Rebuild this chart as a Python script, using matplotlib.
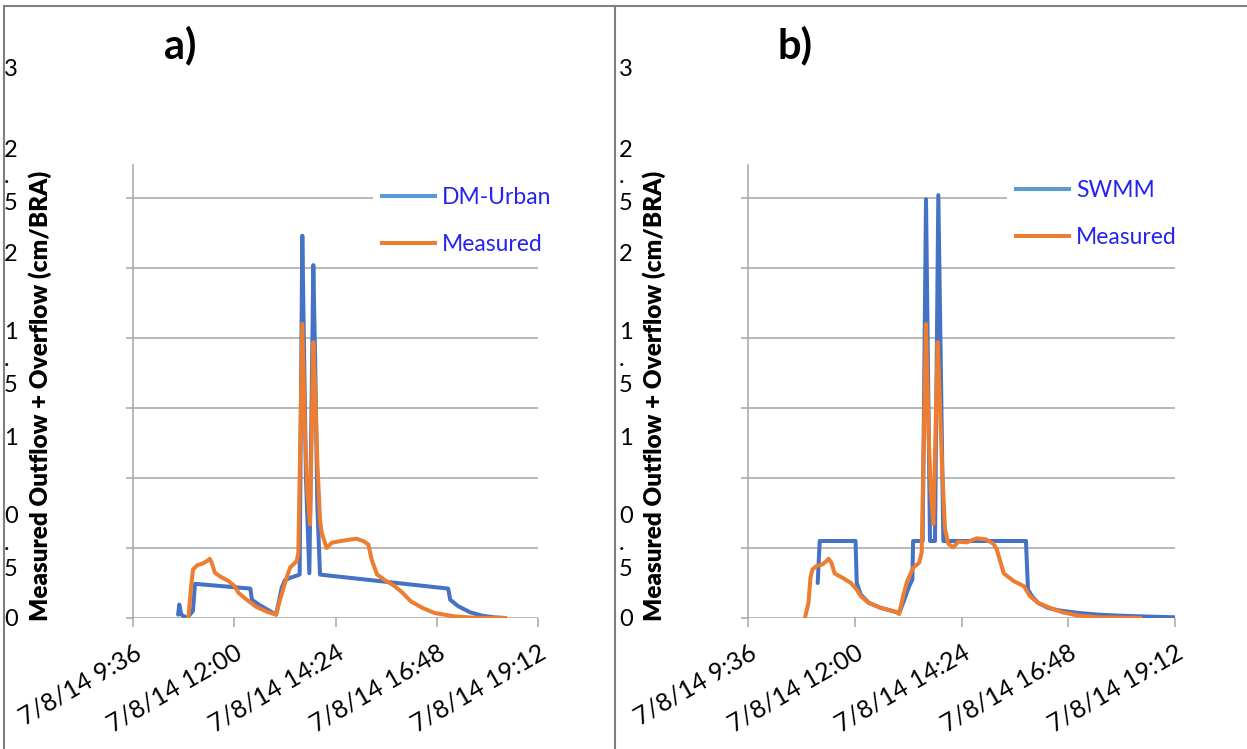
import matplotlib.pyplot as plt
from matplotlib.lines import Line2D
from matplotlib.transforms import ScaledTranslation

plt.rcParams["font.family"] = ["Lato", "DejaVu Sans"]

# time axis in decimal hours on 7/8/14
TICK_HOURS = [9.6, 12.0, 14.4, 16.8, 19.2]
TICK_LABELS = ["7/8/14 9:36", "7/8/14 12:00", "7/8/14 14:24", "7/8/14 16:48", "7/8/14 19:12"]
Y_TICKS = [0, 0.5, 1, 1.5, 2, 2.5, 3]
Y_LABELS = ["0", "0\n.\n5", "1", "1\n.\n5", "2", "2\n.\n5", "3"]
Y_LABEL = "Measured Outflow + Overflow (cm/BRA)"

# panel a) DM-Urban vs measured
DM_T = [10.669, 10.697, 10.744, 10.88, 11.02, 11.07, 12.38, 12.42, 12.58, 12.99,
        13.06, 13.124, 13.20, 13.32, 13.55, 13.58, 13.613, 13.65, 13.70, 13.78,
        13.82, 13.874, 13.92, 13.97, 14.033, 17.07, 17.12, 17.31, 17.59, 17.87,
        18.15, 18.43]
DM_Q = [0.024, 0.096, 0.024, 0.0, 0.05, 0.244, 0.21, 0.13, 0.096, 0.024,
        0.12, 0.215, 0.27, 0.286, 0.31, 1.5, 2.73, 2.0, 1.0, 0.32,
        1.2, 2.52, 1.8, 0.8, 0.31, 0.21, 0.13, 0.084, 0.041, 0.017,
        0.005, 0.0]

MEAS_A_T = [10.913, 10.978, 11.025, 11.119, 11.259, 11.353, 11.419, 11.466, 11.541, 11.681,
            11.869, 12.009, 12.103, 12.291, 12.525, 12.806, 12.994, 13.085, 13.203, 13.322,
            13.48, 13.519, 13.614, 13.677, 13.732, 13.796, 13.875, 13.914, 13.97, 14.033,
            14.072, 14.19, 14.309, 14.507, 14.744, 14.902, 15.06, 15.178, 15.257, 15.384,
            15.572, 15.806, 15.994, 16.181, 16.462, 16.744, 17.212, 17.681, 18.431]
MEAS_A_Q = [0.0, 0.227, 0.347, 0.376, 0.39, 0.407, 0.423, 0.395, 0.323, 0.294,
            0.263, 0.227, 0.179, 0.132, 0.079, 0.041, 0.024, 0.13, 0.25, 0.36,
            0.406, 0.465, 2.10, 1.32, 0.9, 0.668, 1.97, 1.66, 1.11, 0.7,
            0.61, 0.5, 0.537, 0.549, 0.56, 0.566, 0.549, 0.525, 0.418, 0.311,
            0.27, 0.227, 0.179, 0.12, 0.072, 0.036, 0.012, 0.002, 0.0]

# panel b) SWMM vs measured
SWMM_T = [11.167, 11.212, 12.018, 12.045, 12.136, 12.317, 12.589, 12.951, 12.996, 13.087,
          13.223, 13.295, 13.313, 13.527, 13.602, 13.692, 13.804, 13.879, 13.992, 15.849,
          15.895, 15.985, 16.121, 16.347, 16.574, 17.027, 17.48, 17.932, 18.385, 18.838,
          19.2]
SWMM_Q = [0.25, 0.55, 0.55, 0.25, 0.167, 0.108, 0.072, 0.041, 0.031, 0.108,
          0.227, 0.275, 0.55, 0.55, 2.99, 0.55, 0.55, 3.02, 0.55, 0.55,
          0.203, 0.155, 0.108, 0.072, 0.055, 0.036, 0.024, 0.017, 0.012, 0.008,
          0.005]

MEAS_B_T = [10.88, 10.959, 11.004, 11.049, 11.14, 11.276, 11.366, 11.411, 11.475, 11.547,
            11.728, 11.91, 12.045, 12.136, 12.317, 12.589, 12.951, 12.996, 13.087, 13.178,
            13.313, 13.449, 13.505, 13.602, 13.66, 13.71, 13.767, 13.864, 13.90, 13.96,
            14.029, 14.104, 14.216, 14.329, 14.516, 14.741, 14.944, 15.116, 15.19, 15.266,
            15.351, 15.578, 15.804, 15.94, 16.121, 16.393, 16.664, 17.027, 17.48, 18.43]
MEAS_B_Q = [0.0, 0.108, 0.287, 0.347, 0.371, 0.383, 0.407, 0.423, 0.395, 0.318,
            0.287, 0.251, 0.203, 0.155, 0.108, 0.072, 0.041, 0.029, 0.155, 0.263,
            0.359, 0.395, 0.47, 2.10, 1.32, 0.9, 0.671, 1.97, 1.66, 1.1,
            0.636, 0.529, 0.505, 0.545, 0.54, 0.569, 0.562, 0.53, 0.493, 0.41,
            0.318, 0.263, 0.227, 0.155, 0.108, 0.072, 0.041, 0.017, 0.005, 0.0]

BLUE = "#4472c4"
ORANGE = "#ed7d31"
LEG_BLUE = "#5b9bd5"
LEG_TEXT = "#2424ee"
GRID = "#a6a6a6"
BORDER = "#808080"

# Excel stacked the wrapped y labels upward; shift per label in pixels
Y_LABEL_DRIFT = [0, 9.5, 41, 53.5, 85, 95.5, 130.5]

W, H = 1247, 749
fig = plt.figure(figsize=(W / 100, H / 100), dpi=100)


def px(v):
    return v / 100.0


def make_panel(left, right, series, names, legend_xy, tag, tag_x, ylabel_x):
    ax = fig.add_axes([left / W, 1 - 618 / H, (right - left) / W, (618 - 165) / H])
    for (t, q, c) in series:
        ax.plot(t, q, color=c, lw=2.9, solid_joinstyle="round", solid_capstyle="round")

    ax.set_xlim(TICK_HOURS[0], TICK_HOURS[-1])
    ax.set_ylim(0, 3.235)

    ax.set_xticks(TICK_HOURS)
    ax.set_xticklabels(TICK_LABELS, rotation=30, ha="right", va="center",
                       rotation_mode="anchor", fontsize=18)
    ax.tick_params(axis="x", length=6.5, width=1.1, color=GRID, pad=17)
    for lab in ax.get_xticklabels():
        lab.set_transform(lab.get_transform()
                          + ScaledTranslation(px(6), 0, fig.dpi_scale_trans))

    ax.set_yticks(Y_TICKS)
    ax.set_yticklabels(Y_LABELS, fontsize=17, ha="left", linespacing=1.3)
    ax.tick_params(axis="y", length=5, width=1.1, color=GRID, pad=88)
    for lab, d in zip(ax.get_yticklabels(), Y_LABEL_DRIFT):
        lab.set_transform(lab.get_transform()
                          + ScaledTranslation(0, px(d), fig.dpi_scale_trans))

    ax.grid(axis="y", color=GRID, lw=1.1)
    ax.set_axisbelow(True)
    for s in ["top", "right", "bottom"]:
        ax.spines[s].set_visible(False)
    ax.spines["left"].set_color(GRID)
    ax.spines["left"].set_linewidth(1.1)

    handles = [Line2D([], [], color=LEG_BLUE, lw=2.9), Line2D([], [], color=ORANGE, lw=2.9)]
    leg = fig.legend(handles, names, loc="upper left",
                     bbox_to_anchor=(legend_xy[0] / W, 1 - legend_xy[1] / H),
                     frameon=True, fancybox=False, edgecolor="none", facecolor="white",
                     framealpha=1, fontsize=16.5, handlelength=2.3, handletextpad=0.3,
                     borderpad=0.4, labelspacing=1.12, borderaxespad=0)
    for t in leg.get_texts():
        t.set_color(LEG_TEXT)

    fig.text(tag_x / W, 1 - 45 / H, tag, fontsize=30, fontweight="bold",
             ha="center", va="center")
    fig.text(ylabel_x / W, 1 - 396 / H, Y_LABEL, fontsize=17.5, fontweight="heavy",
             rotation=90, ha="center", va="center")
    return ax


make_panel(133, 538, [(DM_T, DM_Q, BLUE), (MEAS_A_T, MEAS_A_Q, ORANGE)],
           ["DM-Urban", "Measured"], (373, 178), "a)", 180, 40)
make_panel(748, 1175, [(SWMM_T, SWMM_Q, BLUE), (MEAS_B_T, MEAS_B_Q, ORANGE)],
           ["SWMM", "Measured"], (1007, 171), "b)", 795, 654)

# outer frame and divider of the two panels
for xs, ys in [([4, 4], [6, H]), ([4, W], [6, 6]), ([615, 615], [6, H])]:
    fig.add_artist(Line2D([x / W for x in xs], [1 - y / H for y in ys],
                          transform=fig.transFigure, color=BORDER, lw=1.5))

fig.savefig("out.png", dpi=100)
